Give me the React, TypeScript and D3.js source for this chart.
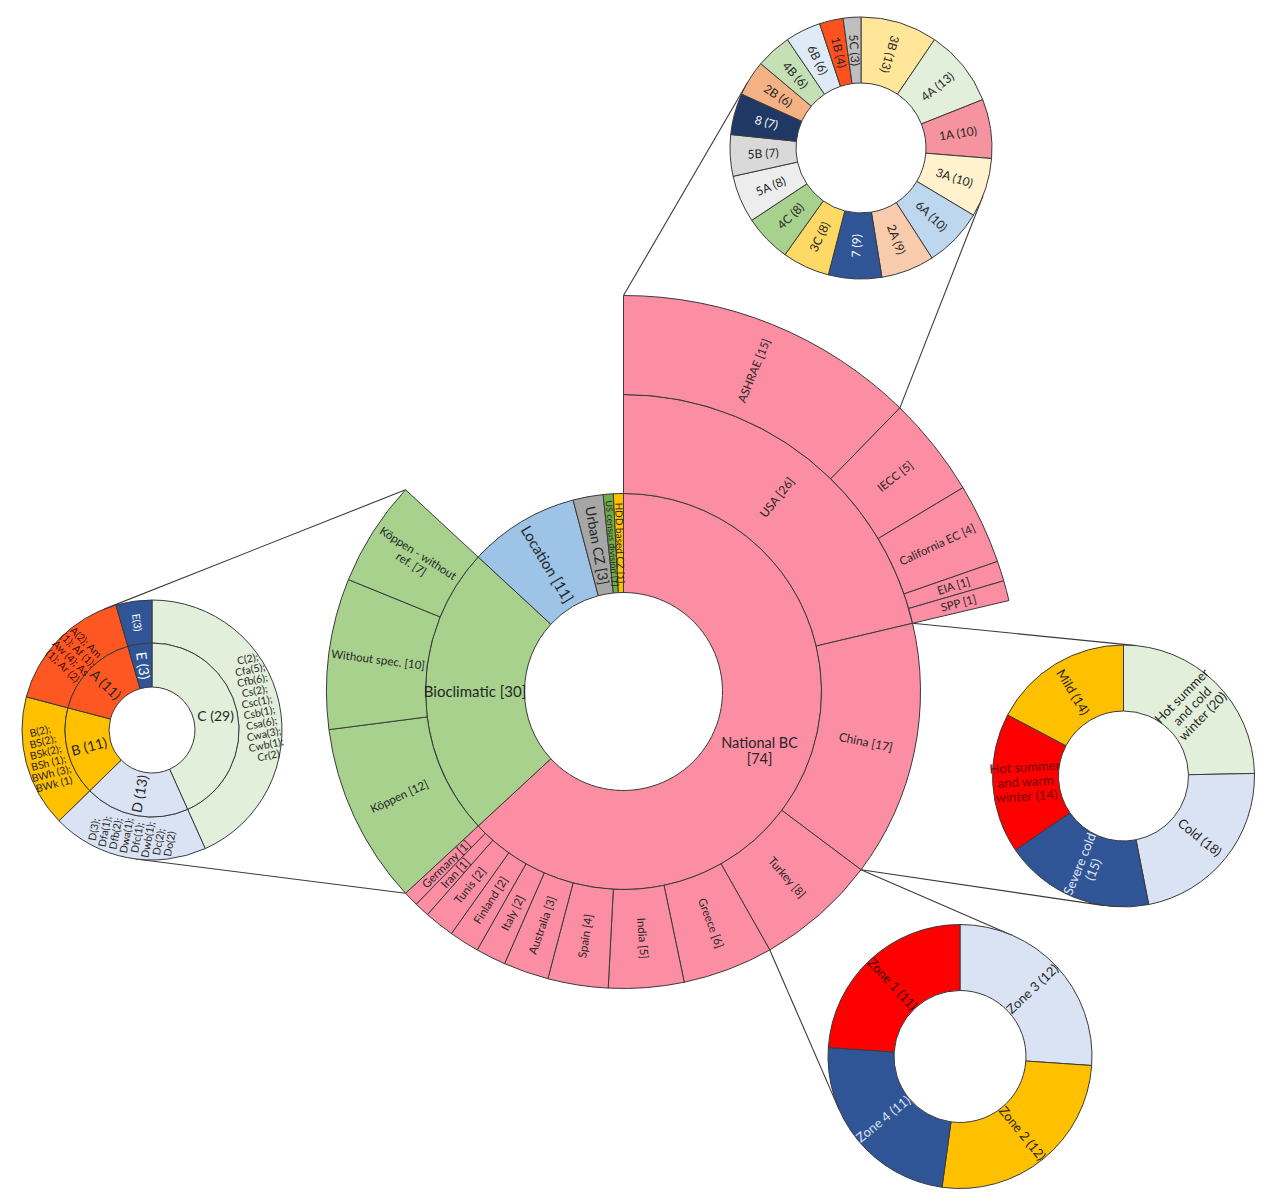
import React from "react";
import * as d3 from "d3";

// ---------------- DATA ----------------
// Main sunburst, level 1 (label counts)
const level1Names = ["National BC", "Bioclimatic", "Location", "Urban CZ", "US census division", "HDD based CZ"];
const level1Counts = [74, 30, 11, 3, 1, 1];
// National BC -> countries
const countryNames = ["USA", "China", "Turkey", "Greece", "India", "Spain", "Australia", "Italy", "Finland", "Tunis", "Iran", "Germany"];
const countryCounts = [26, 17, 8, 6, 5, 4, 3, 2, 2, 2, 1, 1];
// Bioclimatic -> sub types
const bioNames = ["Köppen", "Without spec.", "Köppen - without ref."];
const bioCounts = [12, 10, 7];
// USA -> standards
const usaNames = ["ASHRAE", "IECC", "California EC", "EIA", "SPP"];
const usaCounts = [15, 5, 4, 1, 1];

// ASHRAE climate zones donut
const ashraeZones = ["3B", "4A", "1A", "3A", "6A", "2A", "7", "3C", "4C", "5A", "5B", "8", "2B", "4B", "6B", "1B", "5C"];
const ashraeCounts = [13, 13, 10, 10, 10, 9, 9, 8, 8, 8, 7, 7, 6, 6, 6, 4, 3];

// Köppen donut
const koppenGroups = ["C", "D", "B", "A", "E"];
const koppenCounts = [29, 13, 11, 11, 3];
const koppenDetails = [
  ["C(2);", "Cfa(5);", "Cfb(6);", "Cs(2);", "Csc(1);", "Csb(1);", "Csa(6);", "Cwa(3);", "Cwb(1);", "Cr(2)"],
  ["D(3);", "Dfa(1);", "Dfb(2);", "Dwa(1);", "Dfc(1);", "Dwb(1);", "Dc(2);", "Do(2)"],
  ["B(2);", "BS(2);", "BSk(2);", "BSh (1);", "BWh (3);", "BWk (1)"],
  ["A(2); Am", "(1); Af (1);", "Aw (4); As", "(1); Ar (2)"],
  ["E(3)"],
];

// China climate zones donut
const chinaZones = ["Hot summer and cold winter", "Cold", "Severe cold", "Hot summer and warm winter", "Mild"];
const chinaCounts = [20, 18, 15, 14, 14];

// Turkey climate zones donut
const turkeyZones = ["Zone 3", "Zone 2", "Zone 4", "Zone 1"];
const turkeyCounts = [12, 12, 11, 11];

// ---------------- STYLE ----------------
const FONT = "Lato, 'Noto Sans', sans-serif";
const STROKE = "#3a3a3a";

const level1Colors: Record<string, string> = {
  "National BC": "#FC8EA3",
  Bioclimatic: "#A9D18E",
  Location: "#9DC3E6",
  "Urban CZ": "#A6A6A6",
  "US census division": "#70AD47",
  "HDD based CZ": "#FFC000",
};
const mainFontSize: Record<string, number> = {
  "National BC": 14.5, Bioclimatic: 15, Location: 15, "Urban CZ": 14,
  "US census division": 9, "HDD based CZ": 10, USA: 12, China: 12,
};
const ashraeColors: Record<string, string> = {
  "3B": "#FFE699", "4A": "#E2EFDA", "1A": "#F5939F", "3A": "#FFF2CC", "6A": "#BDD7EE",
  "2A": "#F8CBAD", "7": "#2F5597", "3C": "#FFD966", "4C": "#A9D18E", "5A": "#EDEDED",
  "5B": "#D9D9D9", "8": "#203864", "2B": "#F4B183", "4B": "#C5E0B4", "6B": "#DEEBF7",
  "1B": "#FF5020", "5C": "#BFBFBF",
};
const lightText = new Set(["7", "8", "E", "Severe cold", "Zone 4"]);
const flippedLabels = new Set(["3B"]);
const koppenColors: Record<string, string> = {
  C: "#E2EFDA", D: "#DAE3F3", B: "#FFC000", A: "#FF5722", E: "#2F5597",
};
const chinaColors: Record<string, string> = {
  "Hot summer and cold winter": "#E2EFDA", Cold: "#DAE3F3", "Severe cold": "#2F5597",
  "Hot summer and warm winter": "#FF0000", Mild: "#FFC000",
};
const chinaText: Record<string, string> = {
  "Severe cold": "#E4E8F8", "Hot summer and warm winter": "#6E0000",
};
const turkeyColors: Record<string, string> = {
  "Zone 3": "#DAE3F3", "Zone 2": "#FFC000", "Zone 4": "#2F5597", "Zone 1": "#FF0000",
};
const wrapLines: Record<string, string[]> = {
  "National BC [74]": ["National BC", "[74]"],
  "Köppen - without ref. [7]": ["Köppen - without", "ref. [7]"],
  "Hot summer and cold winter (20)": ["Hot summer", "and cold", "winter (20)"],
  "Hot summer and warm winter (14)": ["Hot summer", "and warm", "winter (14)"],
  "Severe cold (15)": ["Severe cold", "(15)"],
};

// geometry
type Pt = [number, number];
const MAIN_C: Pt = [623.5, 691.5];
const RING = 99;
const TOP_C: Pt = [861, 148];
const TOP_R: [number, number] = [65, 131];
const LEFT_C: Pt = [152, 730];
const LEFT_R: [number, number, number] = [43, 87, 130];
const CHINA_C: Pt = [1123.5, 776];
const CHINA_R: [number, number] = [65, 131];
const TURKEY_C: Pt = [960, 1056.5];
const TURKEY_R: [number, number] = [66, 132];

// ---------------- HELPERS ----------------
function polar(C: Pt, a: number, r: number): Pt {
  return [C[0] + r * Math.sin(a), C[1] - r * Math.cos(a)];
}
function tangentPoint(P: Pt, C: Pt, R: number, Q: Pt): Pt {
  const dx = P[0] - C[0], dy = P[1] - C[1];
  const d = Math.hypot(dx, dy);
  const th = Math.atan2(dy, dx);
  const al = Math.acos(R / d);
  const cands: Pt[] = [th + al, th - al].map((t) => [C[0] + R * Math.cos(t), C[1] + R * Math.sin(t)] as Pt);
  const cx = C[0] - P[0], cy = C[1] - P[1];
  const side = (p: Pt) => cx * (p[1] - P[1]) - cy * (p[0] - P[0]);
  const sq = Math.sign(side(Q));
  return cands.find((t) => Math.sign(side(t)) !== sq) ?? cands[0];
}
function radialRotation(a0: number, a1: number, allowHorizontal = false): number {
  const span = ((a1 - a0) * 180) / Math.PI;
  if (allowHorizontal && span > 150) return 0;
  const a = (((a0 + a1) / 2) * 180) / Math.PI;
  return a < 180 ? a - 90 : a - 270;
}

function Label(props: { x: number; y: number; rot: number; lines: string[]; size: number; fill?: string; lh?: number }) {
  const { x, y, rot, lines, size, fill = "#262626", lh } = props;
  const lineH = lh ?? size * 1.12;
  const n = lines.length;
  return (
    <text
      transform={`translate(${x},${y}) rotate(${rot})`}
      textAnchor="middle"
      fontSize={size}
      fill={fill}
      fontFamily={FONT}
    >
      {lines.map((l, i) => (
        <tspan key={i} x={0} y={(i - (n - 1) / 2) * lineH} dy="0.35em">
          {l}
        </tspan>
      ))}
    </text>
  );
}

// ---------------- MAIN SUNBURST ----------------
type Node = { name: string; count: number; children?: Node[] };
function buildTree(): Node {
  return {
    name: "root",
    count: 0,
    children: level1Names.map((n, i) => {
      let children: Node[] | undefined;
      if (n === "National BC")
        children = countryNames.map((c, j) => ({
          name: c,
          count: countryCounts[j],
          children: c === "USA" ? usaNames.map((u, k) => ({ name: u, count: usaCounts[k] })) : undefined,
        }));
      if (n === "Bioclimatic") children = bioNames.map((b, j) => ({ name: b, count: bioCounts[j] }));
      return { name: n, count: level1Counts[i], children };
    }),
  };
}

export default function App() {
  const root = d3.hierarchy<Node>(buildTree()).sum((d) => (d.children ? 0 : d.count));
  d3.partition<Node>().size([2 * Math.PI, 4])(root);
  const nodes = root.descendants().filter((d) => d.depth > 0) as d3.HierarchyRectangularNode<Node>[];
  const mainArc = d3
    .arc<d3.HierarchyRectangularNode<Node>>()
    .startAngle((d) => d.x0)
    .endAngle((d) => d.x1)
    .innerRadius((d) => d.y0 * RING)
    .outerRadius((d) => d.y1 * RING);

  const find = (n: string) => nodes.find((d) => d.data.name === n)!;
  const ashrae = find("ASHRAE");
  const bio = find("Bioclimatic");
  const china = find("China");
  const turkey = find("Turkey");

  // donuts
  const pie = d3.pie<number>().sort(null).startAngle(0).endAngle(2 * Math.PI);
  const ashraeArcs = pie(ashraeCounts);
  const koppenArcs = pie(koppenCounts);
  const chinaArcs = pie(chinaCounts);
  const turkeyArcs = pie(turkeyCounts);
  const ringArc = (r0: number, r1: number) => d3.arc<d3.PieArcDatum<number>>().innerRadius(r0).outerRadius(r1);

  // connectors
  const connector = (a0: number, a1: number, r: number, C: Pt, R: number) => {
    const P1 = polar(MAIN_C, a0, r);
    const P2 = polar(MAIN_C, a1, r);
    return [
      [P1, tangentPoint(P1, C, R, P2)],
      [P2, tangentPoint(P2, C, R, P1)],
    ] as [Pt, Pt][];
  };
  const connectors = [
    ...connector(ashrae.x0, ashrae.x1, ashrae.y1 * RING, TOP_C, TOP_R[1]),
    ...connector(bio.x0, bio.x1, 3 * RING, LEFT_C, LEFT_R[2]),
    ...connector(china.x0, china.x1, china.y1 * RING, CHINA_C, CHINA_R[1]),
    ...connector(turkey.x0, turkey.x1, turkey.y1 * RING, TURKEY_C, TURKEY_R[1]),
  ];

  const topName = (d: d3.HierarchyRectangularNode<Node>) => {
    let n = d;
    while (n.depth > 1) n = n.parent as d3.HierarchyRectangularNode<Node>;
    return n.data.name;
  };

  const simpleDonut = (
    arcs: d3.PieArcDatum<number>[],
    names: string[],
    C: Pt,
    R: [number, number],
    colors: Record<string, string>,
    fmt: (n: string, v: number) => string,
    size: number,
    textColors: Record<string, string> = {}
  ) => {
    const arcGen = ringArc(R[0], R[1]);
    return (
      <g transform={`translate(${C[0]},${C[1]})`}>
        {arcs.map((a, i) => (
          <path key={i} d={arcGen(a) ?? ""} fill={colors[names[i]]} stroke={STROKE} strokeWidth={1} />
        ))}
        {arcs.map((a, i) => {
          const [x, y] = arcGen.centroid(a);
          const txt = fmt(names[i], a.data);
          let rot = radialRotation(a.startAngle, a.endAngle);
          if (flippedLabels.has(names[i])) rot += 180;
          const fill = textColors[names[i]] ?? (lightText.has(names[i]) ? "#FFFFFF" : "#262626");
          return <Label key={i} x={x} y={y} rot={rot} lines={wrapLines[txt] ?? [txt]} size={size} fill={fill} />;
        })}
      </g>
    );
  };

  const kInner = ringArc(LEFT_R[0], LEFT_R[1]);
  const kOuter = ringArc(LEFT_R[1], LEFT_R[2]);

  return (
    <svg
      width={1270}
      height={1202}
      style={{ position: "absolute", left: 0, top: 0, display: "block" }}
      fontFamily={FONT}
    >
      <rect width={1270} height={1202} fill="#FFFFFF" />

      {/* connector lines */}
      {connectors.map(([p, q], i) => (
        <line key={i} x1={p[0]} y1={p[1]} x2={q[0]} y2={q[1]} stroke={STROKE} strokeWidth={1.1} />
      ))}

      {/* main sunburst */}
      <g transform={`translate(${MAIN_C[0]},${MAIN_C[1]})`}>
        {nodes.map((d, i) => (
          <path key={i} d={mainArc(d) ?? ""} fill={level1Colors[topName(d)]} stroke={STROKE} strokeWidth={1} />
        ))}
        {nodes.map((d, i) => {
          const [x, y] = mainArc.centroid(d);
          const txt = `${d.data.name} [${d.data.count}]`;
          const rot = radialRotation(d.x0, d.x1, d.depth === 1);
          const size = mainFontSize[d.data.name] ?? 11.5;
          return <Label key={i} x={x} y={y} rot={rot} lines={wrapLines[txt] ?? [txt]} size={size} />;
        })}
      </g>

      {/* ASHRAE donut */}
      {simpleDonut(ashraeArcs, ashraeZones, TOP_C, TOP_R, ashraeColors, (n, v) => `${n} (${v})`, 12)}

      {/* Köppen donut */}
      <g transform={`translate(${LEFT_C[0]},${LEFT_C[1]})`}>
        {koppenArcs.map((a, i) => (
          <path key={"o" + i} d={kOuter(a) ?? ""} fill={koppenColors[koppenGroups[i]]} stroke={STROKE} strokeWidth={1} />
        ))}
        {koppenArcs.map((a, i) => (
          <path key={"i" + i} d={kInner(a) ?? ""} fill={koppenColors[koppenGroups[i]]} stroke={STROKE} strokeWidth={1} />
        ))}
        {koppenArcs.map((a, i) => {
          const [x, y] = kInner.centroid(a);
          const g = koppenGroups[i];
          return (
            <Label
              key={"li" + i}
              x={x}
              y={y}
              rot={radialRotation(a.startAngle, a.endAngle, true)}
              lines={[`${g} (${a.data})`]}
              size={14}
              fill={lightText.has(g) ? "#FFFFFF" : "#262626"}
            />
          );
        })}
        {koppenArcs.map((a, i) => {
          const [x, y] = kOuter.centroid(a);
          const g = koppenGroups[i];
          return (
            <Label
              key={"lo" + i}
              x={x}
              y={y}
              rot={radialRotation(a.startAngle, a.endAngle)}
              lines={koppenDetails[i]}
              size={10.5}
              lh={11}
              fill={lightText.has(g) ? "#FFFFFF" : g === "A" ? "#3A0A00" : "#262626"}
            />
          );
        })}
      </g>

      {/* China donut */}
      {simpleDonut(chinaArcs, chinaZones, CHINA_C, CHINA_R, chinaColors, (n, v) => `${n} (${v})`, 13, chinaText)}

      {/* Turkey donut */}
      {simpleDonut(turkeyArcs, turkeyZones, TURKEY_C, TURKEY_R, turkeyColors, (n, v) => `${n} (${v})`, 13, {
        "Zone 4": "#DAE3F3",
        "Zone 1": "#3A0000",
      })}
    </svg>
  );
}
